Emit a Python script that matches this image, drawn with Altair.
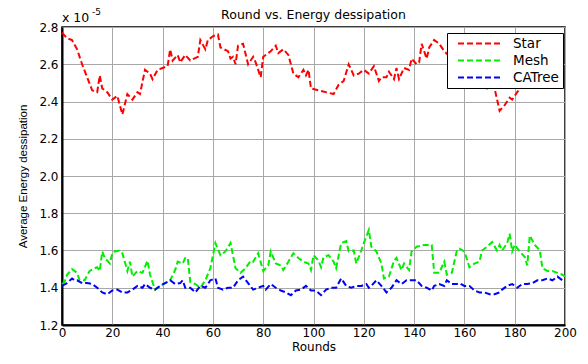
import altair as alt
import pandas as pd

# Values are in units of 1e-5 (axis shows "x 10^-5")
series_names = ["Star", "Mesh", "CATree"]
series_colors = ["#ff0000", "#00ee00", "#0000ff"]

star_rounds = [0, 2, 4, 6, 8, 10, 12, 14, 15, 16, 18, 20, 22, 24, 26, 28, 30, 31, 33, 35,
               36, 38, 40, 42, 43, 44, 46, 47, 49, 51, 54, 55, 57, 58, 60, 62, 63, 66, 67, 68,
               69, 70, 72, 74, 76, 77, 79, 80, 83, 85, 86, 88, 90, 92, 94, 96, 97, 98, 99, 102,
               108, 110, 112, 114, 116, 118, 120, 122, 124, 126, 127, 129, 130, 132, 133, 134, 136, 138, 139, 141,
               142, 143, 145, 146, 148, 150, 152, 155, 158, 161, 164, 165, 167, 169, 171, 172, 174, 176, 178, 179,
               181, 183, 185, 187, 189, 191, 194, 196, 198, 200]
star_vals = [2.77, 2.74, 2.73, 2.68, 2.60, 2.53, 2.46, 2.45, 2.54, 2.47, 2.45, 2.41, 2.43, 2.33, 2.44, 2.41, 2.45, 2.44, 2.57, 2.55,
             2.52, 2.57, 2.58, 2.59, 2.68, 2.62, 2.65, 2.61, 2.65, 2.62, 2.64, 2.73, 2.68, 2.73, 2.75, 2.76, 2.69, 2.67, 2.63, 2.64,
             2.60, 2.70, 2.71, 2.60, 2.64, 2.61, 2.53, 2.64, 2.67, 2.70, 2.66, 2.68, 2.65, 2.55, 2.53, 2.57, 2.54, 2.57, 2.47, 2.46,
             2.44, 2.49, 2.51, 2.60, 2.54, 2.55, 2.57, 2.55, 2.59, 2.51, 2.53, 2.53, 2.56, 2.52, 2.58, 2.52, 2.58, 2.57, 2.63, 2.60,
             2.61, 2.71, 2.63, 2.69, 2.73, 2.71, 2.67, 2.63, 2.58, 2.53, 2.50, 2.48, 2.49, 2.47, 2.49, 2.47, 2.35, 2.38, 2.42, 2.41,
             2.45, 2.48, 2.50, 2.47, 2.48, 2.49, 2.48, 2.48, 2.52, 2.52]

mesh_rounds = [0, 1, 2, 4, 6, 7, 9, 11, 13, 14, 15, 16, 17, 19, 20, 21, 23, 24, 26, 27,
               28, 30, 32, 34, 35, 37, 39, 41, 43, 45, 46, 48, 49, 50, 51, 53, 55, 57, 59, 61,
               63, 65, 67, 69, 71, 73, 75, 76, 78, 80, 82, 83, 85, 87, 88, 90, 92, 94, 96, 98,
               99, 100, 102, 103, 104, 106, 108, 109, 111, 113, 114, 116, 117, 119, 120, 122, 123, 125, 127, 128,
               130, 132, 133, 135, 136, 138, 139, 141, 144, 147, 148, 150, 152, 153, 155, 157, 158, 160, 162, 164,
               166, 167, 169, 171, 173, 174, 175, 177, 178, 179, 180, 182, 184, 185, 186, 188, 190, 191, 193, 195,
               197, 199, 200]
mesh_vals = [1.42, 1.43, 1.47, 1.50, 1.48, 1.44, 1.44, 1.49, 1.505, 1.51, 1.49, 1.595, 1.56, 1.53, 1.585, 1.595, 1.60, 1.585, 1.49, 1.54,
             1.46, 1.49, 1.48, 1.545, 1.47, 1.39, 1.41, 1.425, 1.44, 1.495, 1.54, 1.53, 1.56, 1.56, 1.43, 1.42, 1.40, 1.44, 1.505, 1.64,
             1.575, 1.595, 1.64, 1.505, 1.48, 1.505, 1.545, 1.54, 1.585, 1.49, 1.52, 1.595, 1.53, 1.52, 1.495, 1.54, 1.585, 1.56, 1.54, 1.53,
             1.495, 1.575, 1.545, 1.51, 1.565, 1.575, 1.54, 1.505, 1.64, 1.65, 1.595, 1.60, 1.53, 1.60, 1.64, 1.71, 1.62, 1.595, 1.53, 1.45,
             1.46, 1.545, 1.56, 1.495, 1.53, 1.495, 1.595, 1.62, 1.63, 1.63, 1.48, 1.48, 1.54, 1.47, 1.48, 1.60, 1.61, 1.595, 1.51, 1.53,
             1.54, 1.60, 1.62, 1.645, 1.60, 1.63, 1.60, 1.64, 1.69, 1.595, 1.63, 1.595, 1.565, 1.52, 1.68, 1.63, 1.60, 1.505, 1.49, 1.49,
             1.48, 1.47, 1.46]

catree_rounds = [0, 2, 4, 5, 6, 8, 10, 12, 14, 16, 18, 20, 22, 24, 26, 28, 30, 32, 33, 35,
                 37, 39, 41, 43, 45, 47, 48, 49, 51, 53, 55, 57, 59, 61, 62, 64, 66, 68, 70, 72,
                 74, 76, 78, 80, 81, 83, 85, 87, 89, 91, 93, 95, 97, 99, 101, 103, 105, 107, 109, 111,
                 113, 115, 117, 119, 121, 122, 123, 125, 127, 129, 131, 133, 135, 137, 139, 141, 143, 145, 147, 148,
                 150, 152, 153, 155, 157, 158, 160, 162, 164, 166, 168, 170, 172, 174, 175, 177, 179, 181, 183, 185,
                 187, 189, 191, 193, 195, 197, 199, 200]
catree_vals = [1.41, 1.425, 1.45, 1.44, 1.44, 1.425, 1.425, 1.42, 1.40, 1.375, 1.365, 1.385, 1.39, 1.375, 1.375, 1.39, 1.41, 1.40, 1.42, 1.40,
               1.39, 1.41, 1.425, 1.44, 1.42, 1.425, 1.44, 1.40, 1.40, 1.375, 1.41, 1.40, 1.44, 1.45, 1.40, 1.39, 1.40, 1.40, 1.44, 1.46,
               1.425, 1.39, 1.40, 1.41, 1.39, 1.42, 1.40, 1.385, 1.375, 1.36, 1.385, 1.39, 1.41, 1.385, 1.385, 1.36, 1.39, 1.40, 1.40, 1.45,
               1.41, 1.40, 1.41, 1.41, 1.42, 1.40, 1.41, 1.44, 1.41, 1.375, 1.40, 1.44, 1.42, 1.44, 1.44, 1.44, 1.41, 1.40, 1.385, 1.41,
               1.42, 1.41, 1.44, 1.42, 1.42, 1.425, 1.41, 1.41, 1.385, 1.375, 1.375, 1.365, 1.365, 1.375, 1.39, 1.41, 1.42, 1.40, 1.42, 1.42,
               1.425, 1.44, 1.44, 1.45, 1.44, 1.46, 1.44, 1.44]

x_ticks = [0, 20, 40, 60, 80, 100, 120, 140, 160, 180, 200]
y_ticks = [1.2, 1.4, 1.6, 1.8, 2.0, 2.2, 2.4, 2.6, 2.8]

rows = []
for name, rs, vs in [("Star", star_rounds, star_vals),
                     ("Mesh", mesh_rounds, mesh_vals),
                     ("CATree", catree_rounds, catree_vals)]:
    for r, v in zip(rs, vs):
        rows.append({"series": name, "round": r, "value": v})
df = pd.DataFrame(rows)

WIDE = "DejaVu Sans"
NARROW = "Liberation Sans"

lines = alt.Chart(df).mark_line(strokeWidth=2, strokeDash=[6, 3]).encode(
    x=alt.X("round:Q", scale=alt.Scale(domain=[0, 200], nice=False),
            axis=alt.Axis(values=x_ticks, title="Rounds", format="d")),
    y=alt.Y("value:Q", scale=alt.Scale(domain=[1.2, 2.8], nice=False, zero=False),
            axis=alt.Axis(values=y_ticks, format=".1f", title="Average Energy dessipation",
                          titleFont=NARROW, titleFontSize=11.5)),
    color=alt.Color("series:N",
                    scale=alt.Scale(domain=series_names, range=series_colors),
                    legend=alt.Legend(title=None, orient="none", legendX=385, legendY=6,
                                      fillColor="white", strokeColor="black", padding=4,
                                      symbolType="M-1,0L1,0", symbolSize=2025, symbolStrokeWidth=2,
                                      symbolDash=[6, 3], symbolOffset=6,
                                      labelFontSize=13.5, labelFont=WIDE,
                                      labelOffset=9, rowPadding=3, clipHeight=13,
                                      labelColor="black")),
    detail="series:N",
)

exp_base = alt.Chart(pd.DataFrame({"t": ["x 10"]})).mark_text(
    align="left", baseline="alphabetic", fontSize=12.5, font=WIDE, color="black"
).encode(x=alt.value(0), y=alt.value(-5), text="t:N")
exp_sup = alt.Chart(pd.DataFrame({"t": ["-5"]})).mark_text(
    align="left", baseline="alphabetic", fontSize=9, font=WIDE, color="black"
).encode(x=alt.value(30), y=alt.value(-12), text="t:N")

chart = alt.layer(lines, exp_base, exp_sup).properties(
    width=503, height=298,
    title=alt.TitleParams("Round vs. Energy dessipation", fontSize=12.5, fontWeight="normal",
                          font=WIDE, anchor="middle", offset=-13, color="black"),
    autosize=alt.AutoSizeParams(type="none"),
    padding={"left": 54, "top": 19, "right": 15, "bottom": 31},
    background="white",
).configure_view(
    stroke="black", strokeWidth=1.5
).configure_axis(
    labelFont=WIDE, titleFont=WIDE, labelFontSize=12, titleFontSize=12,
    labelColor="black", titleColor="black", titleFontWeight="normal",
    domainColor="black", domainWidth=2, tickSize=0, labelPadding=4,
    grid=True, gridColor="#a8a8a8", gridWidth=1,
).configure_axisY(titlePadding=10).configure_axisX(titlePadding=3, labelPadding=2, labelFlush=False)

chart.save("out.html", embed_options={"renderer": "svg", "actions": False})
